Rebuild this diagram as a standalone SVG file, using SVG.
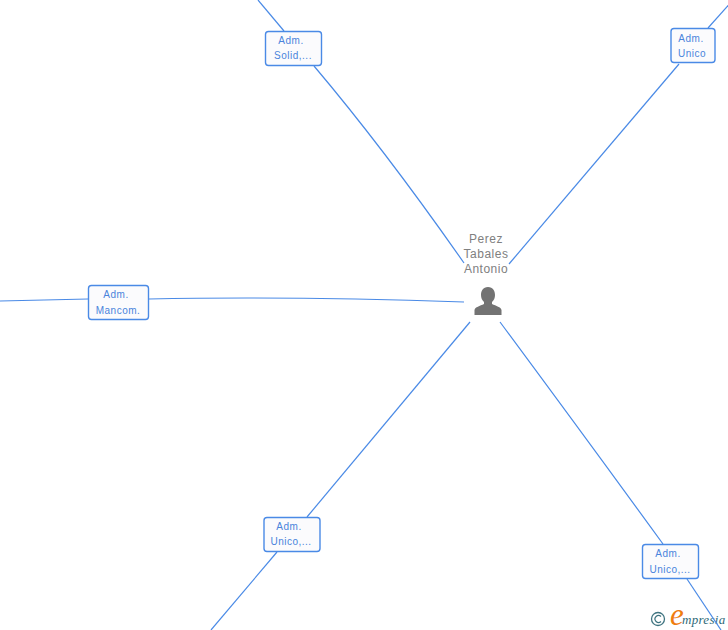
<svg xmlns="http://www.w3.org/2000/svg" width="728" height="630" viewBox="0 0 728 630">
<style>
.e{fill:none;stroke:#4a8ae6;stroke-width:1.2}
.b{fill:#fbfbfd;stroke:#4a8ae6;stroke-width:1.4}
.l{font:10px "Liberation Sans",Arial,sans-serif;fill:#4a84dc;text-anchor:middle;letter-spacing:.5px}
.n{font:12px "Liberation Sans",Arial,sans-serif;fill:#808080;text-anchor:middle;letter-spacing:.5px}
</style>
<rect width="728" height="630" fill="#fff"/>
<g id="logo">
<circle cx="658" cy="619" r="6.500" fill="none" stroke="#3f7480" stroke-width="1.300"/>
<path d="M661 616.500a3.500 3.500 0 1 0 0 5" fill="none" stroke="#3f7480" stroke-width="1.200"/>
<text x="670" y="625" font-family="Liberation Serif,serif" font-style="italic" font-size="31" fill="#ef7d10">e</text>
<text x="682" y="624" font-family="Liberation Serif,serif" font-style="italic" font-size="13" fill="#2f6a78" letter-spacing=".3">mpresia</text>
</g>
<g id="connectors">
<path class="e" d="M258 0L284 31"/>
<path class="e" d="M314 66Q385 150 464 263"/>
<path class="e" d="M733 0L708 28"/>
<path class="e" d="M679 64L509 264"/>
<path class="e" d="M0 301Q40 300 88 299"/>
<path class="e" d="M149 299Q290 296 464 302"/>
<path class="e" d="M470 322L307 517"/>
<path class="e" d="M277 552L211 630"/>
<path class="e" d="M500 322Q580 430 663 544"/>
<path class="e" d="M687 579L721 630"/>
</g>
<g id="node-center">
<text class="n"><tspan x="486" y="243">Perez</tspan><tspan x="486" y="258">Tabales</tspan><tspan x="486" y="273">Antonio</tspan></text>
<path fill="#737373" d="M488 287c-5 0-7 4-7 8 0 3 1 5 3 7v2c-4 2-9 3-9.500 6v5h27v-5c-.5-3-5.500-4-9.500-6v-2c2-2 3-4 3-7 0-4-2-8-7-8z"/>
</g>
<g id="node-solid"><rect class="b" x="265.500" y="31.500" width="56" height="34" rx="3"/><text class="l"><tspan x="291" y="44">Adm.</tspan><tspan x="293" y="59">Solid,...</tspan></text></g>
<g id="node-unico-top"><rect class="b" x="671" y="28.500" width="44" height="34" rx="3"/><text class="l"><tspan x="691" y="42">Adm.</tspan><tspan x="692" y="57">Unico</tspan></text></g>
<g id="node-mancom"><rect class="b" x="88.500" y="285.500" width="60" height="34" rx="3"/><text class="l"><tspan x="116" y="298">Adm.</tspan><tspan x="118" y="314">Mancom.</tspan></text></g>
<g id="node-unico-left"><rect class="b" x="264" y="517.500" width="56" height="34" rx="3"/><text class="l"><tspan x="289" y="530">Adm.</tspan><tspan x="291" y="545">Unico,...</tspan></text></g>
<g id="node-unico-right"><rect class="b" x="642.500" y="544.500" width="56" height="34" rx="3"/><text class="l"><tspan x="668" y="557">Adm.</tspan><tspan x="670" y="573">Unico,...</tspan></text></g>
</svg>
